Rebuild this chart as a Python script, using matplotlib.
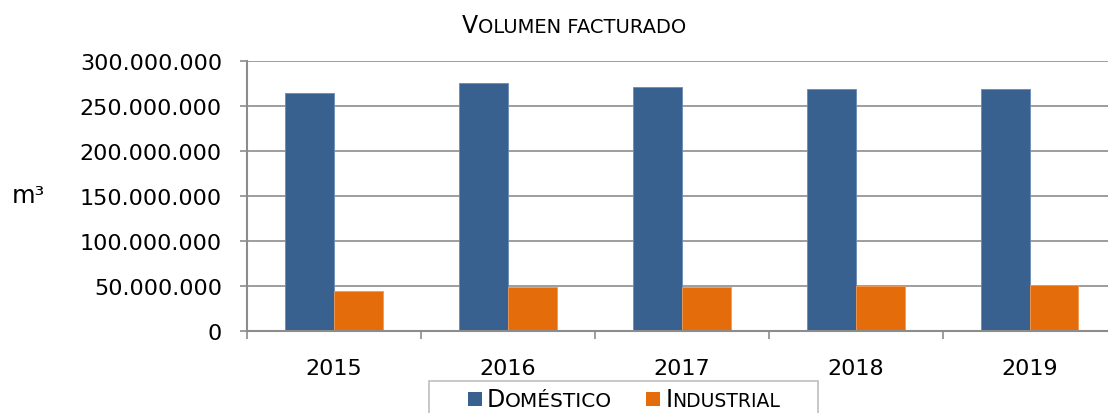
import numpy as np
import matplotlib
matplotlib.use("Agg")
from matplotlib import pyplot as plt
from matplotlib.ticker import FuncFormatter, FixedLocator
from matplotlib.offsetbox import AnchoredOffsetbox, HPacker, TextArea, DrawingArea
from matplotlib.patches import Rectangle

years = ["2015", "2016", "2017", "2018", "2019"]
domestico = [264_300_000, 275_800_000, 271_700_000, 269_200_000, 269_200_000]
industrial = [44_600_000, 48_300_000, 48_700_000, 50_200_000, 50_500_000]
y_ticks = [0, 50_000_000, 100_000_000, 150_000_000, 200_000_000, 250_000_000, 300_000_000]

c_dom = "#386190"
c_ind = "#E46C0A"
c_grid = "#8c8c8c"

plt.rcParams['font.family'] = ['DejaVu Sans']

fig = plt.figure(figsize=(11.08, 4.14), dpi=100)
ax = fig.add_axes([0.2229, 0.1988, 0.785, 0.6507])

x = np.arange(len(years))
w = 0.28
ax.bar(x - w / 2, domestico, w, color=c_dom, edgecolor="#6a8ab5", linewidth=0.6, zorder=3)
ax.bar(x + w / 2, industrial, w, color=c_ind, edgecolor="#f09a55", linewidth=0.6, zorder=3)

ax.set_xlim(-0.5, len(years) - 0.5)
ax.set_ylim(0, 300_000_000)

# eje y
ax.set_yticks(y_ticks)
ax.yaxis.set_major_formatter(FuncFormatter(lambda v, p: "{:,.0f}".format(v).replace(",", ".")))
ax.tick_params(axis="y", length=5, width=1.2, color=c_grid, pad=13, labelsize=16, labelcolor="black")
ax.grid(axis="y", color=c_grid, linewidth=1.2, zorder=0)

# eje x: marcas entre categorias, etiquetas en el centro
ax.xaxis.set_major_locator(FixedLocator(np.arange(len(years) + 1) - 0.5))
ax.xaxis.set_major_formatter(FuncFormatter(lambda v, p: ""))
ax.xaxis.set_minor_locator(FixedLocator(x))
ax.set_xticklabels(years, minor=True)
ax.tick_params(axis="x", which="major", length=6, width=1.2, color=c_grid)
ax.tick_params(axis="x", which="minor", length=0, pad=20, labelsize=16)

for s in ["top", "right"]:
    ax.spines[s].set_visible(False)
for s in ["left", "bottom"]:
    ax.spines[s].set_color(c_grid)
    ax.spines[s].set_linewidth(1.5)
    ax.spines[s].set_zorder(4)

fig.text(12 / 1108, 1 - 196 / 414, "m³", fontsize=17.5, va="center", ha="left")

# titulo en versalitas
title = HPacker(children=[TextArea("V", textprops=dict(size=17)),
                          TextArea("OLUMEN FACTURADO", textprops=dict(size=14)),],
                align="baseline", pad=0, sep=0)
ab = AnchoredOffsetbox(loc="center", child=title, frameon=False, pad=0, borderpad=0,
                       bbox_to_anchor=(574 / 1108, 1 - 26 / 414), bbox_transform=fig.transFigure)
fig.add_artist(ab)


def sq(color):
    da = DrawingArea(10.5, 10.5, 0, 0)
    da.add_artist(Rectangle((0, 0), 10.5, 10.5, facecolor=color, edgecolor="none"))
    return da


def gap(px):
    return DrawingArea(px * 0.72, 1, 0, 0)


items = [gap(33),
         sq(c_dom), gap(4),
         HPacker(children=[TextArea("D", textprops=dict(size=17)),
                           TextArea("OMÉSTICO", textprops=dict(size=14.5))],
                 align="baseline", pad=0, sep=0),
         gap(34),
         sq(c_ind), gap(5),
         HPacker(children=[TextArea("I", textprops=dict(size=17)),
                           TextArea("NDUSTRIAL", textprops=dict(size=13.5))],
                 align="baseline", pad=0, sep=0),
         gap(32)]
leg = HPacker(children=items, align="center", pad=0, sep=0)
lb = AnchoredOffsetbox(loc="upper left", child=leg, frameon=True, pad=0.35, borderpad=0,
                       prop=dict(size=12),
                       bbox_to_anchor=(429 / 1108, 1 - 382 / 414), bbox_transform=fig.transFigure)
lb.patch.set_edgecolor("#bfbfbf")
lb.patch.set_linewidth(1.2)
lb.patch.set_boxstyle("square", pad=0)
fig.add_artist(lb)

fig.savefig("out.png", dpi=100)
